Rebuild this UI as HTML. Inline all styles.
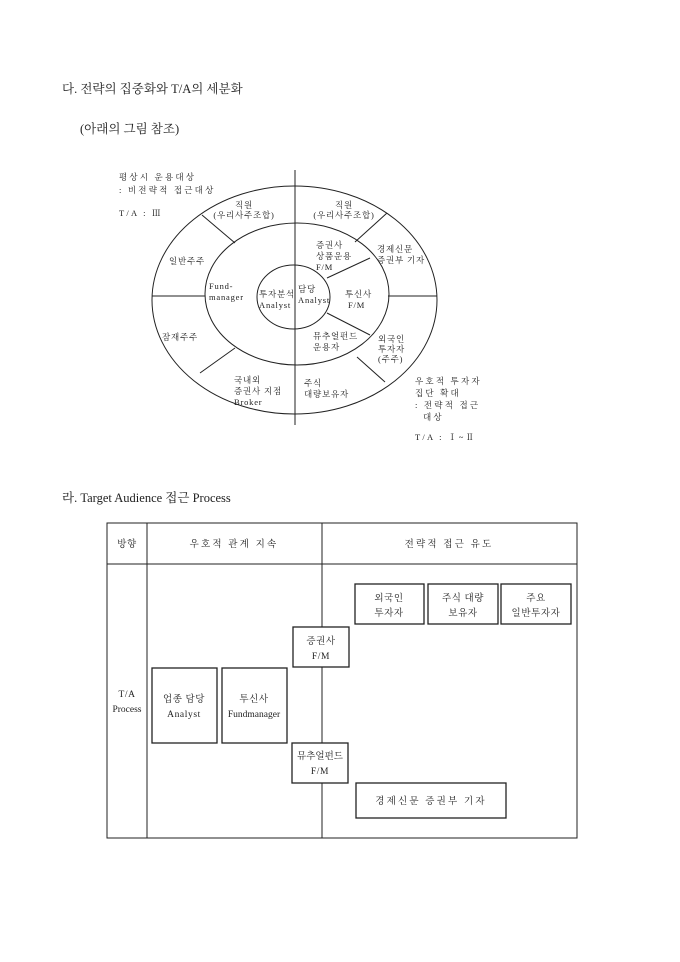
<!DOCTYPE html>
<html><head><meta charset="utf-8"><style>
html,body{margin:0;padding:0;background:#fff;}
svg{display:block;}
text{font-family:"Liberation Serif","Noto Serif CJK SC","Noto Sans CJK KR",serif;fill:#222;}
.s{font-size:8.5px;letter-spacing:0.8px;}
.t{font-size:9.5px;letter-spacing:0.6px;}
.w{letter-spacing:2.2px;}
.h{font-size:12.5px;}
</style></head><body>
<svg width="680" height="962" viewBox="0 0 680 962" xmlns="http://www.w3.org/2000/svg">
<text class="h" x="62" y="93">다. 전략의 집중화와 T/A의 세분화</text>
<text class="h" x="80" y="133">(아래의 그림 참조)</text>

<g fill="none" stroke="#222" stroke-width="1">
<ellipse cx="294.5" cy="300" rx="142.5" ry="114"/>
<ellipse cx="297" cy="294" rx="92" ry="71"/>
<ellipse cx="293.5" cy="297" rx="36.5" ry="32"/>
<line x1="295" y1="170" x2="295" y2="425"/>
<line x1="152" y1="296" x2="205" y2="296"/>
<line x1="388" y1="296" x2="437" y2="296"/>
<line x1="202" y1="215" x2="235" y2="243"/>
<line x1="200" y1="373" x2="235" y2="348"/>
<line x1="355" y1="242" x2="387" y2="213"/>
<line x1="357" y1="357" x2="385" y2="382"/>
<line x1="327" y1="278" x2="370" y2="258"/>
<line x1="327" y1="313" x2="370" y2="335"/>
</g>
<g class="s">
<text x="119" y="180" class="w">평상시 운용대상</text>
<text x="119" y="193" class="w">: 비전략적 접근대상</text>
<text x="119" y="216" class="w">T/A : Ⅲ</text>
<text x="244" y="208" text-anchor="middle">직원</text>
<text x="244" y="218" text-anchor="middle">(우리사주조합)</text>
<text x="344" y="208" text-anchor="middle">직원</text>
<text x="344" y="218" text-anchor="middle">(우리사주조합)</text>
<text x="187" y="264" text-anchor="middle">일반주주</text>
<text x="180" y="340" text-anchor="middle">잠재주주</text>
<text x="209" y="289">Fund-</text>
<text x="209" y="300">manager</text>
<text x="259" y="297">투자분석</text>
<text x="259" y="308">Analyst</text>
<text x="298" y="292">담당</text>
<text x="298" y="303">Analyst</text>
<text x="316" y="248">증권사</text>
<text x="316" y="259">상품운용</text>
<text x="316" y="270">F/M</text>
<text x="377" y="252">경제신문</text>
<text x="377" y="263">증권부 기자</text>
<text x="345" y="297">투신사</text>
<text x="348" y="308">F/M</text>
<text x="313" y="339">뮤추얼펀드</text>
<text x="313" y="350">운용자</text>
<text x="378" y="342">외국인</text>
<text x="378" y="352">투자자</text>
<text x="378" y="362">(주주)</text>
<text x="234" y="383">국내외</text>
<text x="234" y="394">증권사 지점</text>
<text x="234" y="405">Broker</text>
<text x="304" y="386">주식</text>
<text x="304" y="397">대량보유자</text>
<text x="415" y="384" class="w">우호적 투자자</text>
<text x="415" y="396" class="w">집단 확대</text>
<text x="415" y="408" class="w">: 전략적 접근</text>
<text x="423" y="420" class="w">대상</text>
<text x="415" y="440" class="w">T/A : Ⅰ~Ⅱ</text>
</g>

<text class="h" x="62" y="502">라. Target Audience 접근 Process</text>

<g fill="none" stroke="#222" stroke-width="1">
<rect x="107" y="523" width="470" height="315"/>
<line x1="107" y1="564" x2="577" y2="564"/>
<line x1="147" y1="523" x2="147" y2="838"/>
<line x1="322" y1="523" x2="322" y2="838"/>
</g>
<g fill="#fff" stroke="#222" stroke-width="1.3">
<rect x="355" y="584" width="69" height="40"/>
<rect x="428" y="584" width="70" height="40"/>
<rect x="501" y="584" width="70" height="40"/>
<rect x="293" y="627" width="56" height="40"/>
<rect x="152" y="668" width="65" height="75"/>
<rect x="222" y="668" width="65" height="75"/>
<rect x="292" y="743" width="56" height="40"/>
<rect x="356" y="783" width="150" height="35"/>
</g>
<g class="t" text-anchor="middle">
<text x="127" y="547">방향</text>
<text x="234" y="547" class="w">우호적 관계 지속</text>
<text x="449" y="547" class="w">전략적 접근 유도</text>
<text x="389" y="601">외국인</text>
<text x="389" y="616">투자자</text>
<text x="463" y="601">주식 대량</text>
<text x="463" y="616">보유자</text>
<text x="536" y="601">주요</text>
<text x="536" y="616">일반투자자</text>
<text x="321" y="644">증권사</text>
<text x="321" y="659">F/M</text>
<text x="127" y="697">T/A</text>
<text x="127" y="712" style="letter-spacing:0">Process</text>
<text x="184" y="702">업종 담당</text>
<text x="184" y="717">Analyst</text>
<text x="254" y="702">투신사</text>
<text x="254" y="717" style="letter-spacing:0">Fundmanager</text>
<text x="320" y="759" style="letter-spacing:0">뮤추얼펀드</text>
<text x="320" y="774">F/M</text>
<text x="431" y="804" class="w">경제신문 증권부 기자</text>
</g>
</svg>
</body></html>
